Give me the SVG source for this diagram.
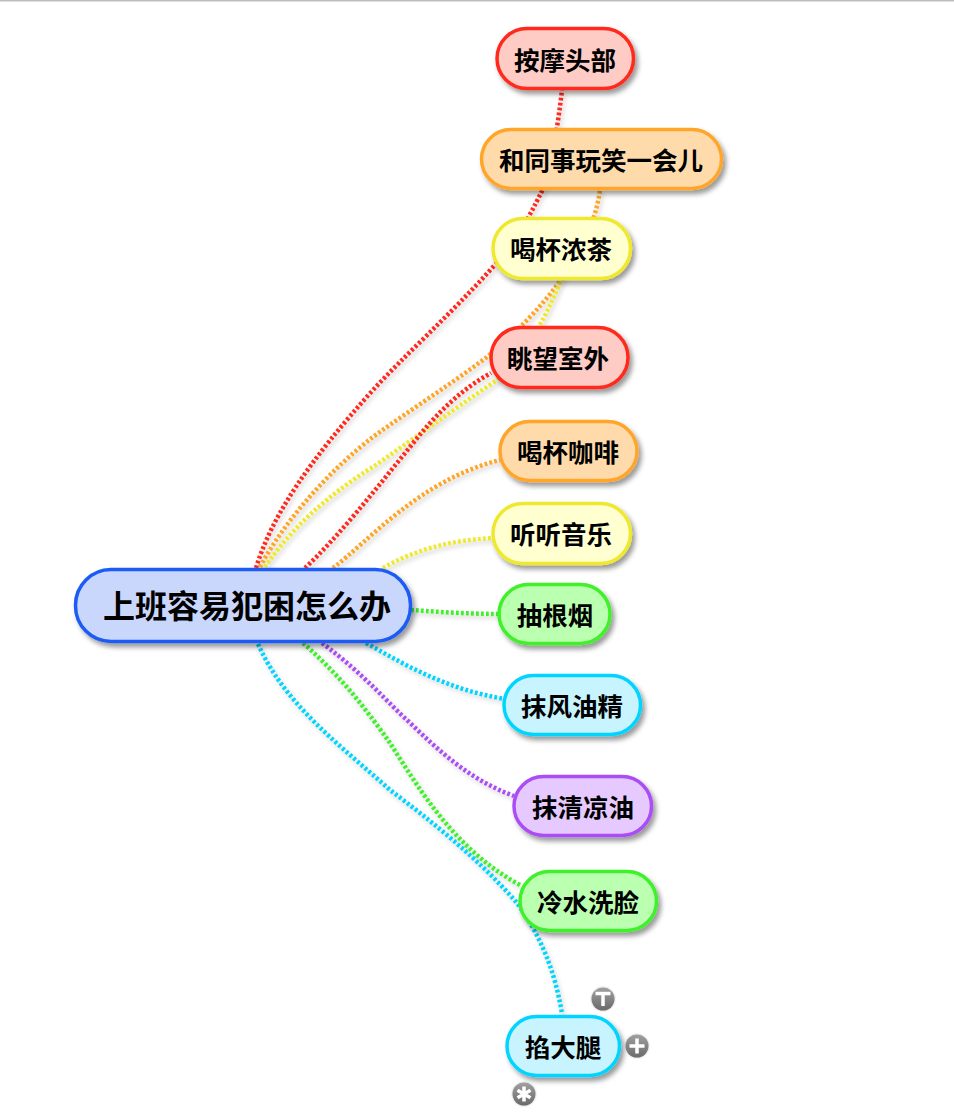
<svg xmlns="http://www.w3.org/2000/svg" width="954" height="1114" viewBox="0 0 954 1114">
<style>
text{font-family:"Noto Sans CJK SC","Noto Sans",sans-serif;font-weight:700;font-size:25.500px;fill:#000;text-anchor:middle;dominant-baseline:central}
.c{fill:none;stroke-width:4.500;stroke-dasharray:2.800 2.200}
.n{stroke-width:3.500;filter:url(#s)}
.red{stroke:#ff2a1f}.ora{stroke:#ffa62b}.yel{stroke:#eee92e}.grn{stroke:#3ff02a}.cya{stroke:#00d4ff}.pur{stroke:#aa4df5}
.b{filter:url(#t)}
.g{stroke:#fff;stroke-width:3.500;fill:none;stroke-linecap:butt}
</style>
<defs>
<filter id="s" x="-20%" y="-30%" width="140%" height="170%"><feDropShadow dx="3" dy="4" stdDeviation="2.500" flood-color="#000" flood-opacity=".4"/></filter>
<filter id="l" filterUnits="userSpaceOnUse" x="0" y="0" width="954" height="1114"><feDropShadow dx="2" dy="3" stdDeviation="2" flood-color="#000" flood-opacity=".2"/></filter>
<filter id="t" x="-30%" y="-30%" width="160%" height="160%"><feDropShadow dx="0" dy="0" stdDeviation=".8" flood-color="#000" flood-opacity=".25"/></filter>
<linearGradient id="bg" x1="0" y1="0" x2="0" y2="1"><stop offset="0" stop-color="#a0a0a0"/><stop offset="1" stop-color="#6a6a6a"/></linearGradient>
</defs>
<rect width="954" height="1114" fill="#fff"/>
<rect width="954" height="1.500" fill="#bdbdbd"/>
<g id="connectors" filter="url(#l)">
<path class="c red" d="M256 568C272 515 310 460 373 390C405 355 450 315 493 267C520 237 535 205 545 185C552 160 558 125 562 90"/>
<path class="c ora" d="M260 567C285 520 330 470 373 437C410 410 450 385 487 357C520 330 590 265 600 190"/>
<path class="c yel" d="M265 567C290 530 325 497 373 467C405 445 450 412 497 380C525 355 545 320 562 278"/>
<path class="c red" d="M305 568C340 535 375 490 410 447C435 415 460 390 491 373"/>
<path class="c ora" d="M333 568C370 540 420 480 500 460"/>
<path class="c yel" d="M383 568C415 550 450 540 494 538"/>
<path class="c grn" d="M411 610C440 612 470 614 499 614"/>
<path class="c cya" d="M366 643C410 668 450 690 505 699"/>
<path class="c pur" d="M322 643C365 675 390 705 407 720C440 752 470 780 514 796"/>
<path class="c grn" d="M303 643C345 680 370 715 390 743C420 790 455 850 520 885"/>
<path class="c cya" d="M258 644C285 705 340 745 390 790C430 820 480 860 517 903C540 935 555 970 562 1014"/>
</g>
<g id="n0"><rect class="n" x="75.500" y="569.500" width="335" height="72" rx="35.500" fill="#cad7fd" stroke="#1a5cf5"/><text x="247" y="604" style="font-size:32px">上班容易犯困怎么办</text></g>
<g id="n1"><rect class="n red" x="497" y="28.500" width="136.500" height="60" rx="30" fill="#ffccc5"/><text x="565" y="58.500">按摩头部</text></g>
<g id="n2"><rect class="n ora" x="481.500" y="129.500" width="240" height="59" rx="29.500" fill="#ffdbac"/><text x="601" y="158">和同事玩笑一会儿</text></g>
<g id="n3"><rect class="n yel" x="493" y="218.500" width="137.500" height="60" rx="30" fill="#ffffd0"/><text x="561" y="247">喝杯浓茶</text></g>
<g id="n4"><rect class="n red" x="491" y="327.500" width="137" height="60" rx="30" fill="#ffccc5"/><text x="558" y="356">眺望室外</text></g>
<g id="n5"><rect class="n ora" x="500" y="421.500" width="137" height="59" rx="29.500" fill="#ffdbac"/><text x="568" y="450">喝杯咖啡</text></g>
<g id="n6"><rect class="n yel" x="493" y="503.500" width="137.500" height="60" rx="30" fill="#ffffd0"/><text x="561" y="532">听听音乐</text></g>
<g id="n7"><rect class="n grn" x="499" y="584.500" width="111" height="59" rx="29.500" fill="#bbffb0"/><text x="555" y="613">抽根烟</text></g>
<g id="n8"><rect class="n cya" x="504" y="675.500" width="136.500" height="59" rx="29.500" fill="#c8f4ff"/><text x="572" y="704">抹风油精</text></g>
<g id="n9"><rect class="n pur" x="514" y="776.500" width="137.500" height="59" rx="29.500" fill="#e6c9ff"/><text x="583" y="805">抹清凉油</text></g>
<g id="n10"><rect class="n grn" x="520" y="871.500" width="136.500" height="59" rx="29.500" fill="#bbffb0"/><text x="588" y="900">冷水洗脸</text></g>
<g id="n11"><rect class="n cya" x="507" y="1016.500" width="112.500" height="59" rx="29.500" fill="#c8f4ff"/><text x="563" y="1045">掐大腿</text></g>
<g id="btn-t"><circle class="b" cx="603" cy="999" r="11.500" fill="url(#bg)"/><path class="g" d="M595.500 993.500H610.500M603 993.500V1006"/></g>
<g id="btn-plus"><circle class="b" cx="637" cy="1046" r="11.500" fill="url(#bg)"/><path class="g" d="M629.500 1046H644.500M637 1038.500V1053.500"/></g>
<g id="btn-star"><circle class="b" cx="524" cy="1094" r="11.500" fill="url(#bg)"/><path class="g" d="M524 1086.500V1101.500M517.500 1090.250L530.500 1097.750M530.500 1090.250L517.500 1097.750"/></g>
</svg>
